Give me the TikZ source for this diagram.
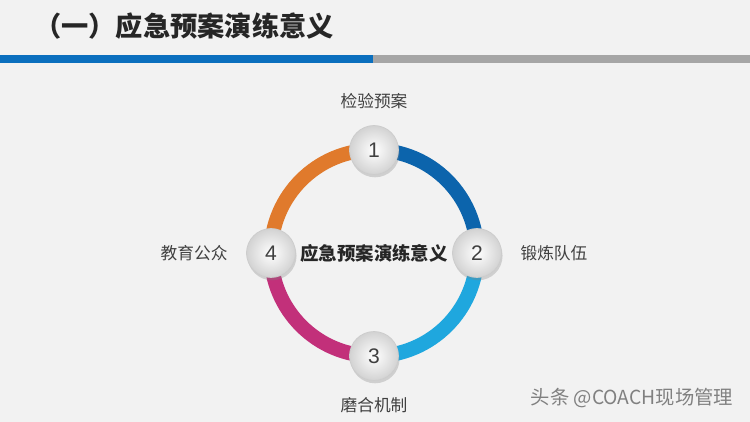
\documentclass[tikz,border=0pt]{standalone}
\usepackage{fontspec}
\setmainfont{Liberation Sans}
\newfontfamily\cjk{Noto Sans CJK SC}
\usetikzlibrary{positioning,shadows}
\definecolor{bgc}{HTML}{F2F2F2}
\definecolor{barblue}{HTML}{0B6FBE}
\definecolor{bargray}{HTML}{A6A6A6}
\definecolor{arcorange}{HTML}{E07A2C}
\definecolor{arcdblue}{HTML}{0C64AC}
\definecolor{arclblue}{HTML}{1FA7DE}
\definecolor{arcpink}{HTML}{C2307A}
\begin{document}
\begin{tikzpicture}[x=0.02cm,y=0.02cm,
  ball/.style={circle,minimum size=0.98cm,inner sep=0pt,draw=gray!40,line width=0.4pt,
    shading=radial,inner color=white,outer color=gray!35,
    drop shadow={opacity=0.3,shadow xshift=0.6pt,shadow yshift=-1.6pt},
    font=\fontsize{12}{12}\selectfont,text=black!75},
  tag/.style={font=\cjk\fontsize{9.5}{9.5}\selectfont,text=black!75},
  ring/.style={line width=0.29cm}]
\fill[bgc] (0,0) rectangle (750,422);
\useasboundingbox (0,0) rectangle (750,422);
% title and bar
\node[anchor=west,font=\cjk\bfseries\fontsize{15.5}{15.5}\selectfont,text=black!85] (title) at (28,396) {（一）应急预案演练意义};
\fill[barblue] (0,359) rectangle (373,367);
\fill[bargray] (373,359) rectangle (750,367);
% ring
\coordinate (o) at (374,169);
\coordinate (p1) at (374,272);
\coordinate (p2) at (477,169);
\coordinate (p3) at (374,66);
\coordinate (p4) at (271,169);
\draw[ring,arcdblue] (p1) arc[start angle=90,end angle=0,radius=103];
\draw[ring,arclblue] (p2) arc[start angle=0,end angle=-90,radius=103];
\draw[ring,arcpink] (p3) arc[start angle=270,end angle=180,radius=103];
\draw[ring,arcorange] (p4) arc[start angle=180,end angle=90,radius=103];
\node[font=\cjk\bfseries\fontsize{10.5}{10.5}\selectfont,text=black!85] (mid) at (o) {应急预案演练意义};
\node[ball] (n1) at (p1) {1};
\node[ball] (n2) at (p2) {2};
\node[ball] (n3) at (p3) {3};
\node[ball] (n4) at (p4) {4};
\node[tag,above=0.2cm of n1] (t1) {检验预案};
\node[tag,right=0.25cm of n2] (t2) {锻炼队伍};
\node[tag,below=0.2cm of n3] (t3) {磨合机制};
\node[tag,left=0.25cm of n4] (t4) {教育公众};
% watermark
\node[font=\cjk\fontsize{11}{11}\selectfont,text=black!50] (wm) at (632,24) {头条 @COACH现场管理};
\end{tikzpicture}
\end{document}
